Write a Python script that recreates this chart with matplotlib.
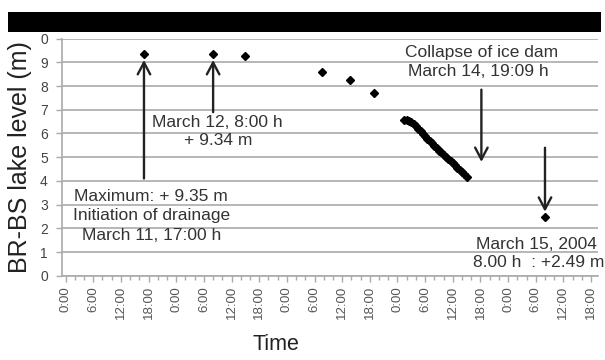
import matplotlib
matplotlib.use("Agg")
import matplotlib.pyplot as plt
from matplotlib.patches import Rectangle

plt.rcParams['font.family'] = ['Liberation Sans', 'DejaVu Sans']

# hours since March 11, 0:00
sparse_hours = [17, 32, 39, 55.7, 61.7, 67, 104]
sparse_levels = [9.35, 9.34, 9.25, 8.58, 8.26, 7.72, 2.49]

dense_hours = [73.5, 74, 74.5, 75, 75.5, 76, 76.5, 77, 77.5, 78, 78.5, 79, 79.5, 80,
               80.5, 81, 81.5, 82, 82.5, 83, 83.5, 84, 84.5, 85, 85.5, 86, 86.5, 87]
dense_levels = [6.57, 6.55, 6.52, 6.47, 6.42, 6.3, 6.2, 6.1, 5.98, 5.88, 5.78, 5.68, 5.58, 5.48,
                5.38, 5.28, 5.2, 5.1, 5.0, 4.92, 4.83, 4.74, 4.66, 4.56, 4.48, 4.38, 4.28, 4.17]

x_tick_hours = list(range(0, 115, 6))
x_tick_labels = ['0:00', '6:00', '12:00', '18:00'] * 5
y_ticks = list(range(0, 11))
y_tick_labels = ['0', '1', '2', '3', '4', '5', '6', '7', '8', '9', '0']

fig = plt.figure(figsize=(6.05, 3.6), dpi=100)
ax = fig.add_axes([61.7/605, 1-275.7/360, (598-61.7)/605, (275.7-38.7)/360])

txt = '#333333'
grid = '#aaaaaa'

ax.set_xlim(-0.85, 115.5)
ax.set_ylim(0, 10)
ax.set_yticks(y_ticks)
ax.set_yticklabels(y_tick_labels, fontsize=10, color='#444444')
ax.set_xticks(x_tick_hours)
ax.set_xticklabels(x_tick_labels, rotation=90, fontsize=9.5, color='#555555')
ax.set_xticks(list(range(0, 116, 2)), minor=True)
ax.tick_params(axis='both', which='both', color=grid, length=4, width=1)
ax.tick_params(axis='x', which='minor', length=3)
ax.tick_params(axis='y', pad=6)
for s in ['top', 'right']:
    ax.spines[s].set_visible(False)
for s in ['left', 'bottom']:
    ax.spines[s].set_color(grid)
    ax.spines[s].set_linewidth(1.2)
ax.yaxis.grid(True, color=grid, linewidth=1.2)
ax.set_axisbelow(True)

ax.plot(sparse_hours, sparse_levels, linestyle='none', marker='D', markersize=3.6, color='black')
ax.plot(dense_hours, dense_levels, linestyle='none', marker='D', markersize=3.6, color='black')

ap = dict(arrowstyle='->,head_width=0.45,head_length=0.85', color='#222222', lw=1.7,
          shrinkA=0, shrinkB=0)
ax.annotate('', xy=(17, 9.1), xytext=(17, 4.1), arrowprops=ap)
ax.annotate('', xy=(32, 9.1), xytext=(32, 6.9), arrowprops=ap)
ax.annotate('', xy=(90.2, 4.8), xytext=(90.2, 7.85), arrowprops=ap)
ax.annotate('', xy=(104, 2.7), xytext=(104, 5.4), arrowprops=ap)

fs = 12.5
ax.text(33, 6.45, 'March 12, 8:00 h', ha='center', va='center', fontsize=fs, color=txt)
ax.text(33, 5.7, '+ 9.34 m', ha='center', va='center', fontsize=fs, color=txt)
ax.text(18.6, 3.33, 'Maximum: + 9.35 m', ha='center', va='center', fontsize=fs, color=txt)
ax.text(18.6, 2.53, 'Initiation of drainage', ha='center', va='center', fontsize=fs, color=txt)
ax.text(18.6, 1.7, 'March 11, 17:00 h', ha='center', va='center', fontsize=fs, color=txt)
ax.text(90.2, 9.41, 'Collapse of ice dam', ha='center', va='center', fontsize=fs, color=txt)
ax.text(89.6, 8.6, 'March 14, 19:09 h', ha='center', va='center', fontsize=fs, color=txt)
ax.text(102.2, 1.33, 'March 15, 2004', ha='center', va='center', fontsize=fs, color=txt)
ax.text(102.6, 0.55, '8.00 h  : +2.49 m', ha='center', va='center', fontsize=fs, color=txt)

fig.text(20/605, 1-157/360, 'BR-BS lake level (m)', rotation=90, ha='center', va='center',
         fontsize=18, color='#222222')
fig.text(276/605, 1-345/360, 'Time', ha='center', va='center', fontsize=15.5, color='#222222')

fig.add_artist(Rectangle((8/605, 1-32/360), (601-8)/605, 20/360, transform=fig.transFigure,
                         facecolor='black', edgecolor='none', zorder=10))

fig.savefig('out.png', dpi=100)
